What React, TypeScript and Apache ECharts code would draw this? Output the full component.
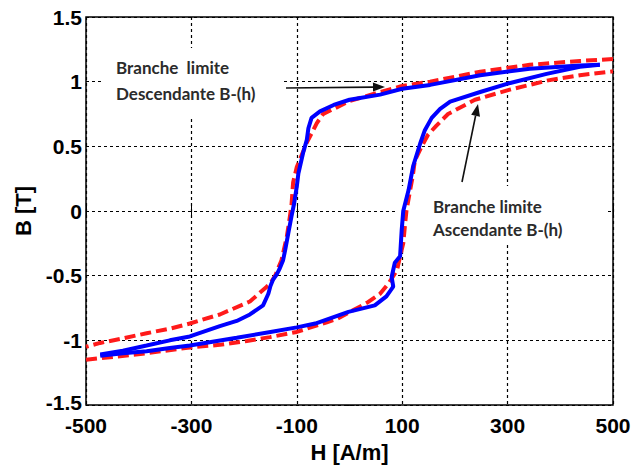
import React, { useEffect, useRef } from "react";
import * as echarts from "echarts";

// H [A/m], B [T]
const blueDescending: number[][] = [
  [475, 1.13], [437, 1.125], [342, 1.1], [248, 1.05], [153, 0.975], [100, 0.945],
  [58, 0.9], [0, 0.86], [-30, 0.82], [-56, 0.77], [-72, 0.72], [-78, 0.64],
  [-81, 0.55], [-88, 0.45], [-97, 0.29], [-100, 0.19], [-105, 0.06], [-110, -0.04],
  [-116, -0.17], [-122, -0.3], [-126, -0.38], [-133, -0.45], [-138, -0.49],
  [-145, -0.53], [-150, -0.58], [-154, -0.64], [-164, -0.73], [-189, -0.8],
  [-214, -0.85], [-246, -0.89], [-303, -0.97], [-341, -1.0], [-385, -1.04],
  [-430, -1.08], [-473, -1.11],
];

const blueAscending: number[][] = [
  [-473, -1.12], [-430, -1.1], [-385, -1.085], [-341, -1.06], [-303, -1.04],
  [-214, -0.98], [-150, -0.935], [-100, -0.9], [-65, -0.87], [-2, -0.78],
  [48, -0.73], [70, -0.66], [83, -0.585], [80, -0.51], [86, -0.4], [96, -0.35],
  [99, -0.15], [102, 0], [112, 0.16], [121, 0.35], [134, 0.52], [143, 0.625],
  [156, 0.72], [172, 0.79], [191, 0.845], [248, 0.92], [305, 0.99], [374, 1.06],
  [437, 1.115], [475, 1.13],
];

const redDescending: number[][] = [
  [500, 1.175], [437, 1.16], [342, 1.13], [248, 1.077], [153, 1.0], [98, 0.965],
  [58, 0.92], [0, 0.85], [-50, 0.75], [-62, 0.68], [-72, 0.6], [-81, 0.53],
  [-92, 0.42], [-100, 0.34], [-107, 0.22], [-110, 0.05], [-113, -0.04],
  [-119, -0.2], [-129, -0.38], [-141, -0.5], [-151, -0.565], [-157, -0.585],
  [-189, -0.7], [-246, -0.8], [-303, -0.87], [-341, -0.91], [-385, -0.945],
  [-430, -0.985], [-473, -1.02], [-500, -1.05],
];

const redAscending: number[][] = [
  [-500, -1.15], [-440, -1.125], [-385, -1.1], [-303, -1.055], [-246, -1.035],
  [-195, -1.005], [-151, -0.975], [-100, -0.935], [-43, -0.86], [-24, -0.835],
  [33, -0.71], [58, -0.64], [74, -0.56], [90, -0.46], [96, -0.35], [102, -0.25],
  [105, -0.12], [108, 0], [115, 0.16], [120, 0.27], [124, 0.39], [137, 0.5],
  [149, 0.59], [165, 0.66], [187, 0.75], [238, 0.86], [301, 0.935], [377, 1.01],
  [437, 1.05], [500, 1.08],
];

const xRange = [-500, 500];
const yRange = [-1.5, 1.5];
const xStep = 200;
const yStep = 0.5;

const annotationDesc = ["Branche  limite", "Descendante B-(h)"];
const annotationAsc = ["Branche limite", "Ascendante B-(h)"];

function arrow(x1: number, y1: number, x2: number, y2: number) {
  const ang = Math.atan2(y2 - y1, x2 - x1);
  const len = 12;
  const half = 4.5;
  const bx = x2 - len * Math.cos(ang);
  const by = y2 - len * Math.sin(ang);
  const px = -Math.sin(ang) * half;
  const py = Math.cos(ang) * half;
  return [
    {
      type: "line",
      z: 10,
      shape: { x1, y1, x2: bx, y2: by },
      style: { stroke: "#111", lineWidth: 1.6 },
    },
    {
      type: "polygon",
      z: 10,
      shape: { points: [[x2, y2], [bx + px, by + py], [bx - px, by - py]] },
      style: { fill: "#111" },
    },
  ];
}

const annFont = "bold 17px Lato, 'Open Sans', sans-serif";

export default function App() {
  const ref = useRef<HTMLDivElement>(null);
  useEffect(() => {
    if (!ref.current) return;
    const chart = echarts.init(ref.current, undefined, { renderer: "svg" });
    const tickLabel = {
      color: "#000",
      fontSize: 21,
      fontWeight: "bold",
      fontFamily: "'Liberation Sans', Arial, sans-serif",
    };
    const split = { show: true, lineStyle: { color: "#000", type: [3, 3], width: 1.2 } };
    const tick = { show: true, inside: true, length: 5, lineStyle: { color: "#000", width: 1 } };
    chart.setOption({
      animation: false,
      backgroundColor: "#fff",
      grid: {
        left: 86,
        right: 22,
        top: 17,
        bottom: 65,
        show: true,
        borderColor: "#000",
        borderWidth: 1.5,
        backgroundColor: "transparent",
      },
      xAxis: [
        {
          type: "value",
          min: xRange[0],
          max: xRange[1],
          interval: xStep,
          name: "H [A/m]",
          nameLocation: "middle",
          nameGap: 36,
          nameTextStyle: { ...tickLabel, fontSize: 22 },
          axisLine: { show: false },
          axisTick: tick,
          axisLabel: { ...tickLabel, lineHeight: 16, margin: 12 },
          splitLine: split,
        },
        {
          type: "value",
          position: "top",
          min: xRange[0],
          max: xRange[1],
          interval: xStep,
          axisLine: { show: false },
          axisTick: tick,
          axisLabel: { show: false },
          splitLine: { show: false },
        },
      ],
      yAxis: [
        {
          type: "value",
          min: yRange[0],
          max: yRange[1],
          interval: yStep,
          name: "B [T]",
          nameLocation: "middle",
          nameGap: 48,
          nameRotate: 90,
          nameTextStyle: { ...tickLabel, fontSize: 22 },
          axisLine: { show: false },
          axisTick: tick,
          axisLabel: {
            ...tickLabel,
            lineHeight: 16,
            margin: 4,
            formatter: (v: number) => (v === yRange[0] ? "{lo|" + v + "}" : String(v)),
            rich: { lo: { ...tickLabel, lineHeight: 16, padding: [0, 0, 5, 0] } },
          },
          splitLine: split,
        },
        {
          type: "value",
          position: "right",
          min: yRange[0],
          max: yRange[1],
          interval: yStep,
          axisLine: { show: false },
          axisTick: tick,
          axisLabel: { show: false },
          splitLine: { show: false },
        },
      ],
      series: [
        {
          name: "Branche descendante (mesure)",
          type: "line",
          data: redDescending,
          symbol: "none",
          z: 3,
          lineStyle: { color: "#ff1a1a", width: 4, type: [11, 5] },
        },
        {
          name: "Branche ascendante (mesure)",
          type: "line",
          data: redAscending,
          symbol: "none",
          z: 3,
          lineStyle: { color: "#ff1a1a", width: 4, type: [11, 5] },
        },
        {
          name: "Branche descendante (modèle)",
          type: "line",
          data: blueDescending,
          symbol: "none",
          z: 4,
          lineStyle: { color: "#0000ff", width: 4 },
        },
        {
          name: "Branche ascendante (modèle)",
          type: "line",
          data: blueAscending,
          symbol: "none",
          z: 4,
          lineStyle: { color: "#0000ff", width: 4 },
        },
      ],
      graphic: [
        { type: "rect", z: 1, shape: { x: 103, y: 48, width: 180, height: 70 }, style: { fill: "#fff" } },
        { type: "rect", z: 1, shape: { x: 396, y: 186, width: 211, height: 59 }, style: { fill: "#fff" } },
        {
          type: "text", z: 2, x: 116, y: 67,
          style: { text: annotationDesc[0], font: annFont, fill: "#2b2b2b", textVerticalAlign: "middle" },
        },
        {
          type: "text", z: 2, x: 116, y: 93,
          style: { text: annotationDesc[1], font: annFont, fill: "#2b2b2b", textVerticalAlign: "middle" },
        },
        {
          type: "text", z: 2, x: 433, y: 206,
          style: { text: annotationAsc[0], font: annFont, fill: "#2b2b2b", textVerticalAlign: "middle" },
        },
        {
          type: "text", z: 2, x: 433, y: 229,
          style: { text: annotationAsc[1], font: annFont, fill: "#2b2b2b", textVerticalAlign: "middle" },
        },
        ...arrow(286, 88, 385, 87),
        ...arrow(462, 182, 478, 104),
      ],
    });
    return () => chart.dispose();
  }, []);
  return (
    <div
      ref={ref}
      style={{ position: "fixed", left: 0, top: 0, width: 635, height: 470, background: "#fff" }}
    />
  );
}
